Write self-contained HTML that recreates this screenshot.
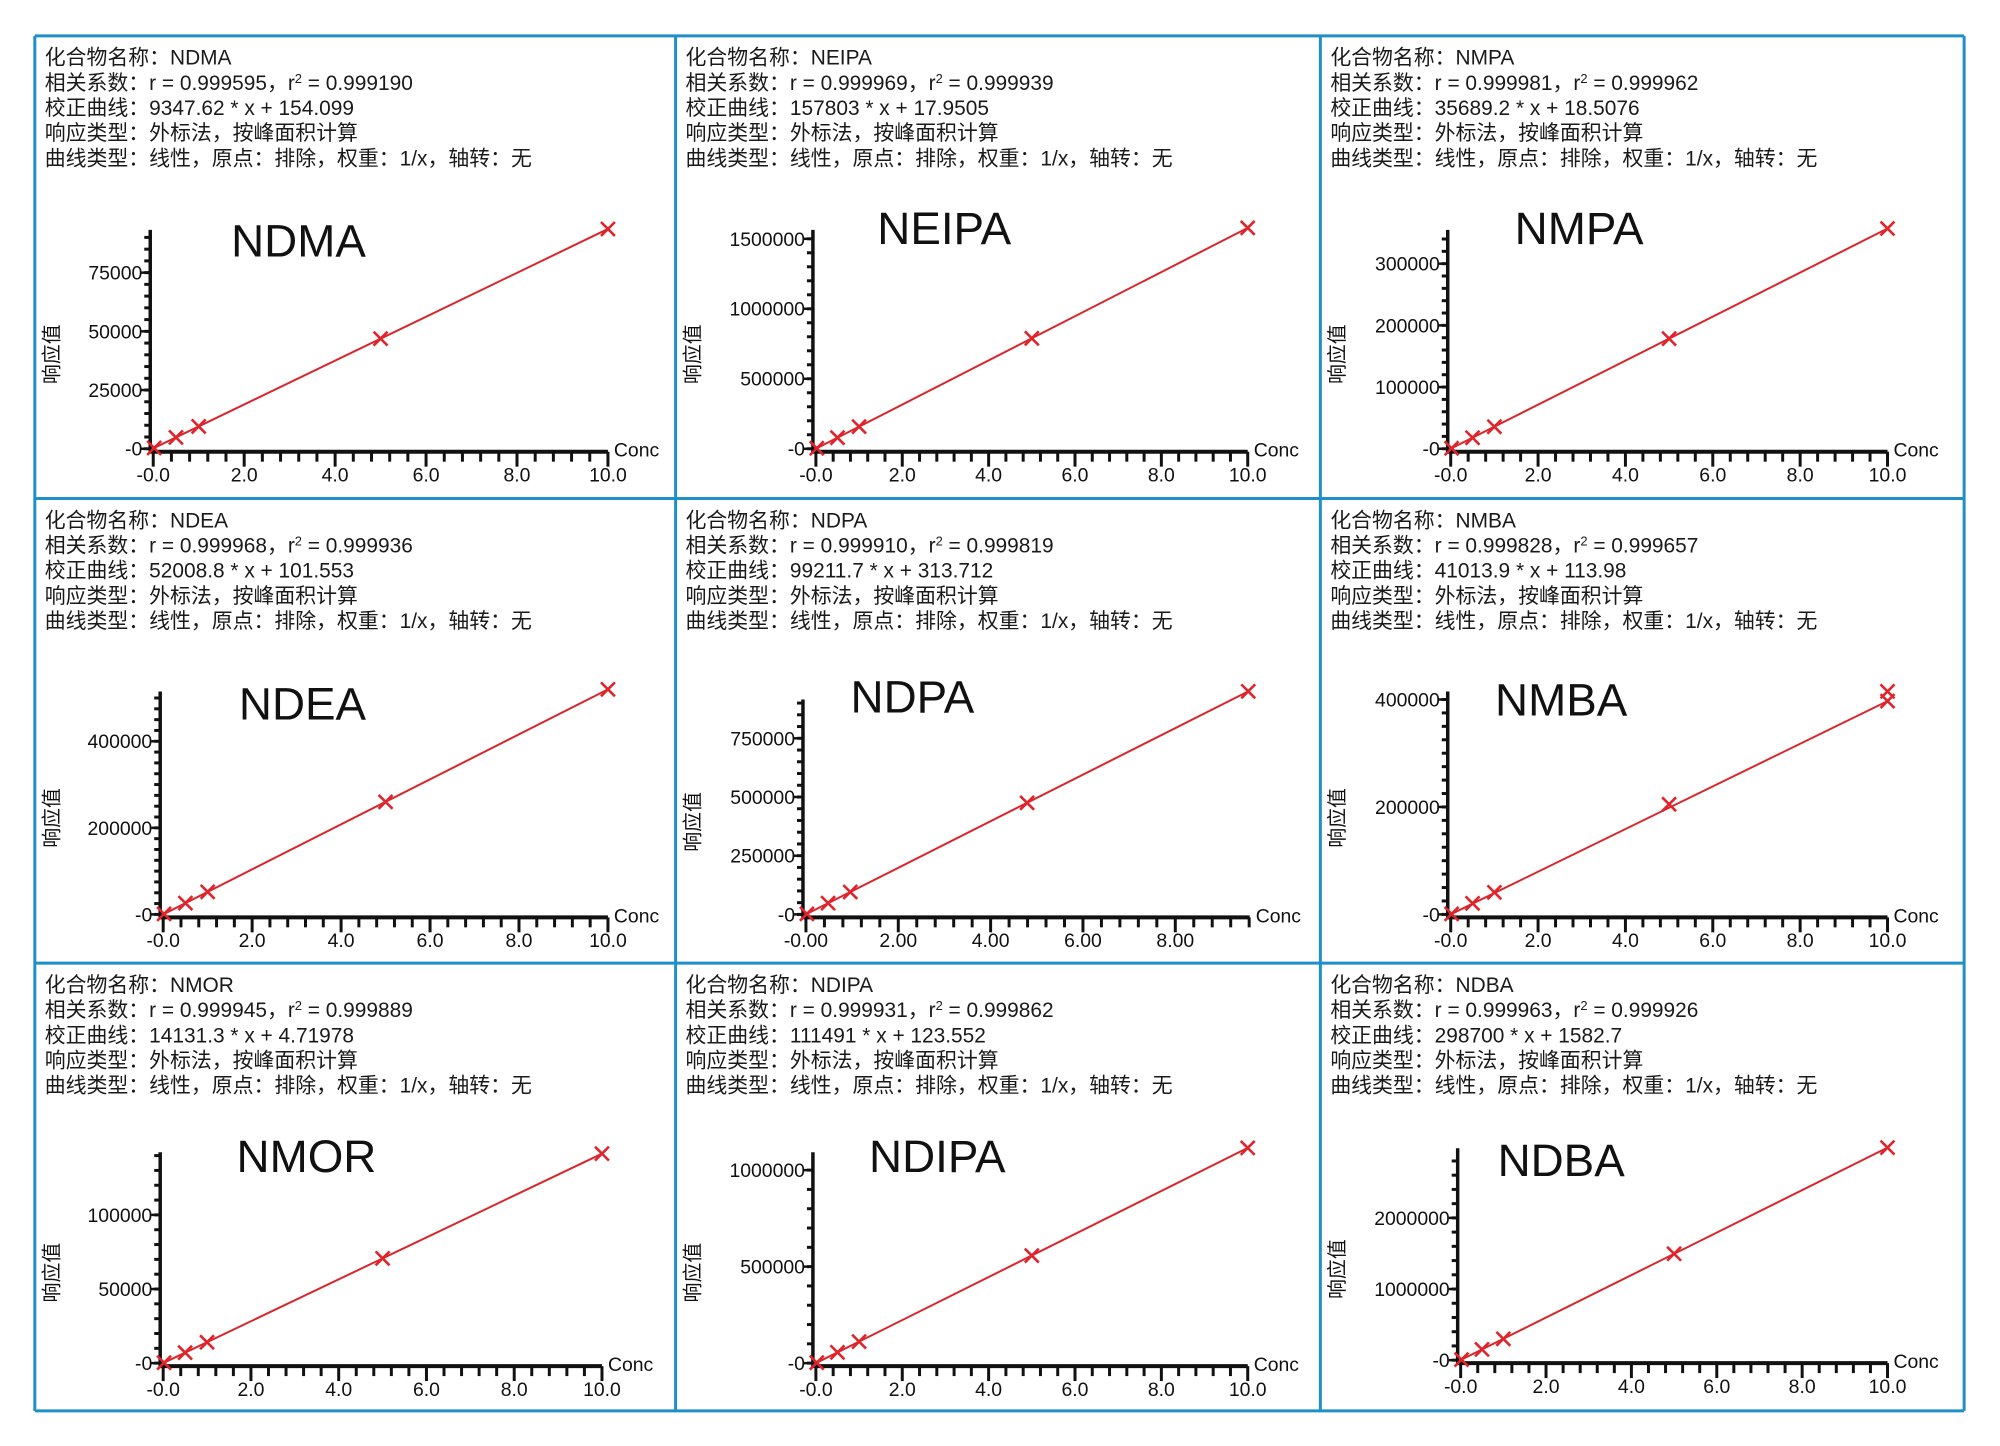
<!DOCTYPE html>
<html><head><meta charset="utf-8">
<style>
html,body{margin:0;padding:0;background:#fff;}
body{width:2000px;height:1446px;overflow:hidden;position:relative;font-family:"Liberation Sans","Noto Sans CJK SC",sans-serif;}
svg{position:absolute;left:0;top:0;}
</style></head>
<body>
<svg id="chart" width="2000" height="1446" viewBox="0 0 2000 1446" xmlns="http://www.w3.org/2000/svg"><g id="root" transform="scale(0.995)"></g></svg>
<script>
// ---- data ----
const compoundNames = ["NDMA","NEIPA","NMPA","NDEA","NDPA","NMBA","NMOR","NDIPA","NDBA"];
const rValues = ["0.999595","0.999969","0.999981","0.999968","0.999910","0.999828","0.999945","0.999931","0.999963"];
const r2Values = ["0.999190","0.999939","0.999962","0.999936","0.999819","0.999657","0.999889","0.999862","0.999926"];
const equations = ["9347.62 * x + 154.099","157803 * x + 17.9505","35689.2 * x + 18.5076","52008.8 * x + 101.553","99211.7 * x + 313.712","41013.9 * x + 113.98","14131.3 * x + 4.71978","111491 * x + 123.552","298700 * x + 1582.7"];
const concStd = [0.02, 0.5, 1, 5, 10];
const concNDPA = [0.02, 0.48, 0.96, 4.79, 9.58];
const concNMBA = [0.02, 0.5, 1, 5, 10, 10];
const respNDMA = [340, 4830, 9500, 46900, 93600];
const respNEIPA = [3200, 79000, 158000, 789000, 1578000];
const respNMPA = [730, 17900, 35700, 178500, 357000];
const respNDEA = [1100, 26100, 52100, 260000, 520000];
const respNDPA = [2300, 47900, 95500, 475000, 950000];
const respNMBA = [900, 20600, 41100, 205000, 415000, 397000];
const respNMOR = [300, 7100, 14100, 70700, 141300];
const respNDIPA = [2400, 55900, 111600, 557000, 1115000];
const respNDBA = [7500, 151000, 300000, 1495000, 2988000];
const yTicksNDMA = [0, 25000, 50000, 75000];
const yTicksNEIPA = [0, 500000, 1000000, 1500000];
const yTicksNMPA = [0, 100000, 200000, 300000];
const yTicksNDEA = [0, 200000, 400000];
const yTicksNDPA = [0, 250000, 500000, 750000];
const yTicksNMBA = [0, 200000, 400000];
const yTicksNMOR = [0, 50000, 100000];
const yTicksNDIPA = [0, 500000, 1000000];
const yTicksNDBA = [0, 1000000, 2000000];
const xTicksStd = [0, 2, 4, 6, 8, 10];
const xTicksNDPA = [0, 2, 4, 6, 8];

// ---- layout (pixel geometry) ----
const NS = "http://www.w3.org/2000/svg";
const root = document.getElementById('root');
const colX = [35, 679, 1327, 1974];
const rowY = [36, 501, 968, 1418];
function el(tag, attrs, parent, text){
  const e = document.createElementNS(NS, tag);
  for (const k in attrs) e.setAttribute(k, attrs[k]);
  if (text !== undefined) e.textContent = text;
  (parent || root).appendChild(e);
  return e;
}
const charts = [
  {conc:concStd, resp:respNDMA, yt:yTicksNDMA, xt:xTicksStd, x0:154, x10:611, xEnd:611, zero:451, refV:75000, refPx:274, top:231, tx:300, ty:258, dec:1, minor:5000},
  {conc:concStd, resp:respNEIPA, yt:yTicksNEIPA, xt:xTicksStd, x0:820, x10:1254, xEnd:1254, zero:451, refV:1500000, refPx:240, top:231, tx:949, ty:245, dec:1, minor:100000},
  {conc:concStd, resp:respNMPA, yt:yTicksNMPA, xt:xTicksStd, x0:1458, x10:1897, xEnd:1897, zero:451, refV:300000, refPx:265, top:231, tx:1587, ty:245, dec:1, minor:20000},
  {conc:concStd, resp:respNDEA, yt:yTicksNDEA, xt:xTicksStd, x0:164, x10:611, xEnd:611, zero:919, refV:400000, refPx:745, top:695, tx:304, ty:723, dec:1, minor:25000},
  {conc:concNDPA, resp:respNDPA, yt:yTicksNDPA, xt:xTicksNDPA, x0:810, x10:1274, xEnd:1256, zero:919, refV:750000, refPx:742, top:703, tx:917, ty:716, dec:2, minor:50000},
  {conc:concNMBA, resp:respNMBA, yt:yTicksNMBA, xt:xTicksStd, x0:1458, x10:1897, xEnd:1897, zero:919, refV:400000, refPx:703, top:695, tx:1569, ty:719, dec:1, minor:25000},
  {conc:concStd, resp:respNMOR, yt:yTicksNMOR, xt:xTicksStd, x0:164, x10:605, xEnd:605, zero:1370, refV:100000, refPx:1221, top:1158, tx:308, ty:1178, dec:1, minor:10000},
  {conc:concStd, resp:respNDIPA, yt:yTicksNDIPA, xt:xTicksStd, x0:820, x10:1254, xEnd:1254, zero:1370, refV:1000000, refPx:1176, top:1158, tx:942, ty:1178, dec:1, minor:100000},
  {conc:concStd, resp:respNDBA, yt:yTicksNDBA, xt:xTicksStd, x0:1468, x10:1897, xEnd:1897, zero:1367, refV:2000000, refPx:1224, top:1154, tx:1569, ty:1182, dec:1, minor:200000}
];

// borders
for (let i = 0; i < 4; i++) {
  const v = el('line', {x1:colX[i], y1:rowY[0], x2:colX[i], y2:rowY[3], stroke:'#1f8fc8', 'stroke-width':3});
  
  
  const h = el('line', {x1:colX[0], y1:rowY[i], x2:colX[3], y2:rowY[i], stroke:'#1f8fc8', 'stroke-width':3});
  
  
}

charts.forEach((c, i) => {
  const col = i % 3, row = Math.floor(i / 3);
  const cx = colX[col], cy = rowY[row];
  const g = el('g', {});
  
  
  const lines = [
    '化合物名称：' + compoundNames[i],
    null,
    '校正曲线：' + equations[i],
    '响应类型：外标法，按峰面积计算',
    '曲线类型：线性，原点：排除，权重：1/x，轴转：无'
  ];
  for (let k = 0; k < 5; k++) {
    const ty = cy + 29 + k * 25.3;
    let t;
    if (k === 1) {
      t = el('text', {x:cx + 10, y:ty, 'font-size':21, fill:'#1a1a1a'}, g);
      t.textContent = '相关系数：r = ' + rValues[i] + '，r';
      el('tspan', {'font-size':13, dy:-7}, t, '2');
      el('tspan', {dy:7}, t, ' = ' + r2Values[i]);
    } else {
      t = el('text', {x:cx + 10, y:ty, 'font-size':21, fill:'#1a1a1a'}, g, lines[k]);
    }
    
    
  }
  const xs = v => c.x0 + (c.x10 - c.x0) * v / 10;
  const ys = v => c.zero - (c.zero - c.refPx) * v / c.refV;
  const axY = c.zero + 3;
  const title = el('text', {x:c.tx, y:c.ty, 'font-size':46, 'text-anchor':'middle', fill:'#111'}, g, compoundNames[i]);
  
  
  const ylx = cx + 24, yly = (c.top + c.zero) / 2 + 15;
  const yl = el('text', {x:ylx, y:yly, 'font-size':20, 'text-anchor':'middle', transform:'rotate(-90 ' + ylx + ' ' + yly + ')', fill:'#111'}, g, '响应值');
  
  
  const ya = el('line', {x1:c.x0 - 3, y1:c.top, x2:c.x0 - 3, y2:axY + 1, stroke:'#111', 'stroke-width':3.5}, g);
  
  
  for (let v = 0; ys(v) >= c.top; v += c.minor) {
    const m = el('line', {x1:c.x0 - 9, y1:ys(v), x2:c.x0 - 3, y2:ys(v), stroke:'#111', 'stroke-width':3}, g);
    
    
  }
  c.yt.forEach(v => {
    const tk = el('line', {x1:c.x0 - 12, y1:ys(v), x2:c.x0 - 3, y2:ys(v), stroke:'#111', 'stroke-width':2.5}, g);
    
    
    const lb = el('text', {x:c.x0 - 11, y:ys(v) + 7, 'font-size':19.5, 'text-anchor':'end', fill:'#111'}, g, v === 0 ? '-0' : String(v));
    
    
  });
  const xa = el('line', {x1:c.x0 - 4, y1:axY, x2:c.xEnd, y2:axY, stroke:'#111', 'stroke-width':4}, g);
  
  
  for (let v = 0; xs(v) <= c.xEnd + 0.5; v += 0.4) {
    const major = Math.abs(v / 2 - Math.round(v / 2)) < 0.01;
    const m = el('line', {x1:xs(v), y1:axY, x2:xs(v), y2:axY + (major ? 15 : 10), stroke:'#111', 'stroke-width':3}, g);
    
    
  }
  c.xt.forEach(v => {
    const lb = el('text', {x:xs(v), y:axY + 30, 'font-size':19.5, 'text-anchor':'middle', fill:'#111'}, g, (v === 0 ? '-' : '') + v.toFixed(c.dec));
    
    
  });
  const conc = el('text', {x:c.xEnd + 6, y:c.zero + 8, 'font-size':19.5, fill:'#111'}, g, 'Conc');
  
  
  const n = c.conc.length;
  const ln = el('line', {x1:xs(c.conc[0]), y1:ys(c.resp[0]), x2:xs(c.conc[n - 1]), y2:ys(c.resp[n - 1]), stroke:'#d8262c', 'stroke-width':2}, g);
  
  
  for (let k = 0; k < n; k++) {
    const px = xs(c.conc[k]), py = ys(c.resp[k]), s = 7;
    const p = el('path', {d:'M' + (px - s) + ' ' + (py - s) + 'L' + (px + s) + ' ' + (py + s) + 'M' + (px - s) + ' ' + (py + s) + 'L' + (px + s) + ' ' + (py - s), stroke:'#e0242b', 'stroke-width':2.6, fill:'none'}, g);
    
    
  }
});
</script>
</body></html>
